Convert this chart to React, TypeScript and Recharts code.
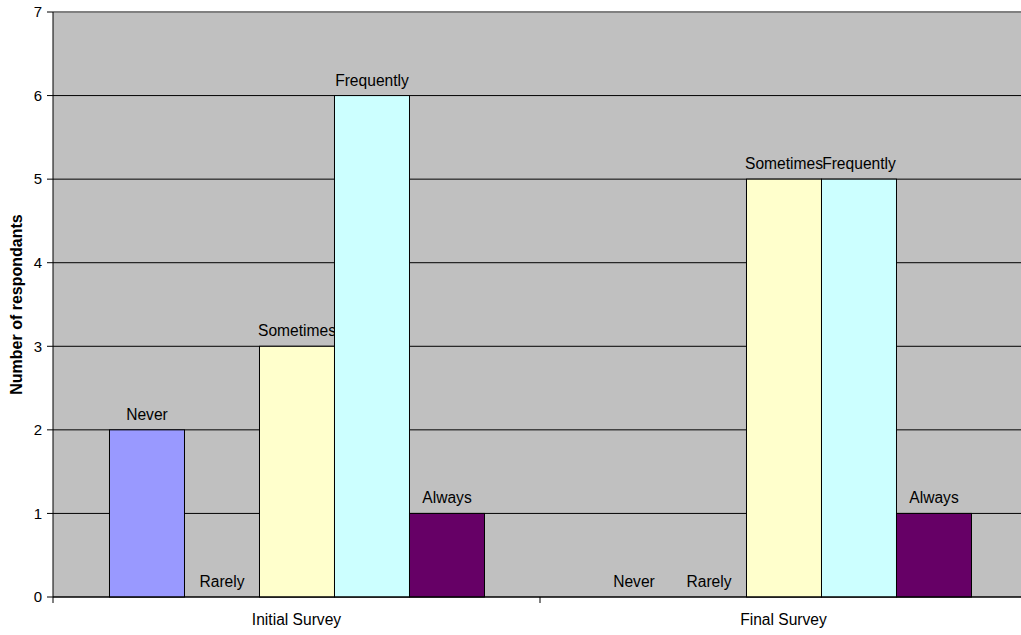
import React from 'react';
import { BarChart, Bar, XAxis, YAxis, CartesianGrid, ReferenceLine } from 'recharts';

const categories = ['Initial Survey', 'Final Survey'];
const never = [2, 0];
const rarely = [0, 0];
const sometimes = [3, 5];
const frequently = [6, 5];
const always = [1, 1];
const yTicks = [0, 1, 2, 3, 4, 5, 6, 7];

const seriesList = [
  { key: 'Never', values: never, color: '#9999FF' },
  { key: 'Rarely', values: rarely, color: '#993366' },
  { key: 'Sometimes', values: sometimes, color: '#FFFFCC' },
  { key: 'Frequently', values: frequently, color: '#CCFFFF' },
  { key: 'Always', values: always, color: '#660066' },
];

const data = categories.map((c, i) => {
  const row: Record<string, any> = { name: c };
  seriesList.forEach((s) => {
    row[s.key] = s.values[i];
  });
  return row;
});

const CHART_W = 1030;
const CHART_H = 635;
const MARGIN = { top: 12, right: 3, bottom: 0, left: 0 };
const Y_W = 53;
const FONT = '"Liberation Sans", Arial, sans-serif';

const bandHalf = (CHART_W - MARGIN.left - MARGIN.right - Y_W) / categories.length / 2;

const XTick = (props: any) => {
  const { x, y, payload, index } = props;
  return (
    <g>
      <line x1={x - bandHalf} x2={x - bandHalf} y1={y} y2={y + 6} stroke="#000" />
      {index === categories.length - 1 ? (
        <line x1={x + bandHalf} x2={x + bandHalf} y1={y} y2={y + 6} stroke="#000" />
      ) : null}
      <text x={x} y={y + 28} textAnchor="middle" fontSize={15.6} fontFamily={FONT} fill="#000">
        {payload.value}
      </text>
    </g>
  );
};

const YLabel = (props: any) => {
  const vb = props.viewBox || {};
  const cx = 16;
  const cy = (vb.y || 0) + (vb.height || 0) / 2;
  return (
    <text
      x={cx}
      y={cy}
      transform={`rotate(-90, ${cx}, ${cy})`}
      textAnchor="middle"
      dominantBaseline="central"
      fontSize={16}
      fontWeight="bold"
      fontFamily={FONT}
      fill="#000"
    >
      Number of respondants
    </text>
  );
};

const makeShape = (name: string) => (props: any) => {
  const { x, y, width, height, fill } = props;
  const h = Math.abs(height || 0);
  return (
    <g>
      {h > 0 ? (
        <rect x={x} y={y} width={width} height={height} fill={fill} stroke="#000" strokeWidth={1} />
      ) : null}
      <text
        x={x + width / 2}
        y={y - 10}
        textAnchor="middle"
        fontSize={15.6}
        fontFamily={FONT}
        fill="#000"
      >
        {name}
      </text>
    </g>
  );
};

export default function App() {
  return (
    <div style={{ position: 'absolute', left: 0, top: 0, width: 1021, height: 635, overflow: 'hidden', background: '#fff' }}>
      <BarChart
        width={CHART_W}
        height={CHART_H}
        data={data}
        margin={MARGIN}
        barCategoryGap="11.6%"
        barGap={0}
      >
        <CartesianGrid vertical={false} stroke="#000" fill="#C0C0C0" fillOpacity={1} />
        <ReferenceLine y={7} stroke="#808080" strokeWidth={2} />
        <XAxis
          dataKey="name"
          height={38}
          axisLine={{ stroke: '#000' }}
          tickLine={false}
          tickSize={0}
          tickMargin={0}
          tick={<XTick />}
          interval={0}
        />
        <YAxis
          width={Y_W}
          domain={[0, 7]}
          ticks={yTicks}
          interval={0}
          axisLine={{ stroke: '#000' }}
          tickLine={{ stroke: '#000' }}
          tickSize={6}
          tickMargin={5}
          tick={{ fontSize: 15, fontFamily: FONT, fill: '#000' }}
          label={<YLabel />}
        />
        {seriesList.map((s) => (
          <Bar
            key={s.key}
            dataKey={s.key}
            fill={s.color}
            isAnimationActive={false}
            shape={makeShape(s.key)}
          />
        ))}
      </BarChart>
    </div>
  );
}
